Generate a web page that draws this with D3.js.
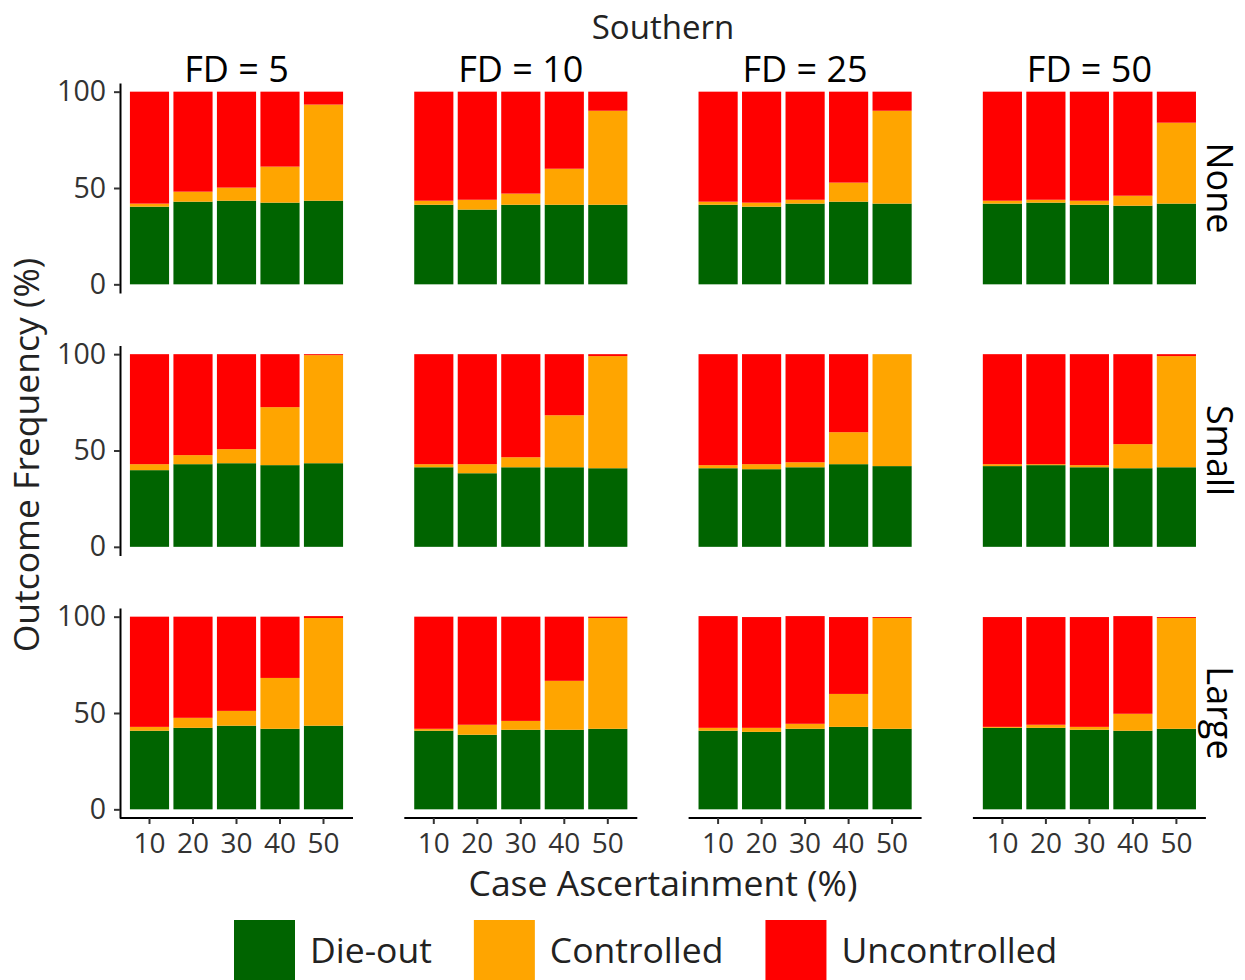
<!DOCTYPE html>
<html>
<head>
<meta charset="utf-8">
<script src="https://cdn.jsdelivr.net/npm/d3@7"></script>
<style>
  body { margin: 0; background: #fff; }
  text { font-family: "Open Sans", sans-serif; }
</style>
</head>
<body>
<script>
// case ascertainment categories (x) and the facet labels
const ascertainment = ["10", "20", "30", "40", "50"];
const fdLevels = ["FD = 5", "FD = 10", "FD = 25", "FD = 50"];
const delayLevels = ["None", "Small", "Large"];
const outcomes = ["Die-out", "Controlled", "Uncontrolled"];
const yTicks = [0, 50, 100];

// outcome frequency (%) per panel: [delay][fd][ascertainment]
const dieOut = [
  [[40.3, 42.9, 43.4, 42.4, 43.4], [41.3, 38.8, 41.3, 41.3, 41.3], [41.3, 40.3, 41.9, 42.9, 41.9], [41.9, 42.4, 41.3, 40.8, 41.9]],
  [[39.8, 42.9, 43.4, 42.4, 43.4], [41.3, 38.2, 41.3, 41.3, 40.8], [40.8, 40.3, 41.3, 42.9, 41.9], [41.9, 42.4, 41.3, 40.8, 41.3]],
  [[40.8, 42.3, 43.4, 41.8, 43.4], [40.8, 38.7, 41.3, 41.3, 41.8], [40.8, 40.2, 41.8, 42.8, 41.8], [42.3, 42.3, 41.3, 40.8, 41.8]]
];
const controlled = [
  [[1.6, 5.2, 6.8, 18.7, 49.9], [2.1, 5.1, 5.8, 18.7, 48.8], [1.6, 2.1, 2.0, 9.9, 48.2], [1.5, 1.5, 2.1, 5.2, 42.0]],
  [[3.1, 4.7, 7.3, 30.1, 56.1], [1.6, 4.7, 5.2, 27.0, 58.2], [1.6, 2.6, 2.6, 16.6, 58.1], [1.0, 0.5, 1.1, 12.5, 57.7]],
  [[2.0, 5.2, 7.7, 26.4, 55.9], [1.0, 5.2, 4.6, 25.4, 57.5], [1.5, 2.1, 2.6, 17.1, 57.5], [0.5, 1.6, 1.5, 8.8, 57.5]]
];
const uncontrolled = [
  [[58.1, 51.9, 49.8, 38.9, 6.7], [56.6, 56.1, 52.9, 40.0, 9.9], [57.1, 57.6, 56.1, 47.2, 9.9], [56.6, 56.1, 56.6, 54.0, 16.1]],
  [[57.1, 52.4, 49.3, 27.5, 0.5], [57.1, 57.1, 53.5, 31.7, 1.0], [57.6, 57.1, 56.1, 40.5, 0.0], [57.1, 57.1, 57.6, 46.7, 1.0]],
  [[57.2, 52.5, 48.9, 31.8, 1.0], [58.2, 56.1, 54.1, 33.3, 0.7], [58.0, 57.5, 55.9, 39.9, 0.5], [57.0, 55.9, 57.0, 50.7, 0.5]]
];

const colors = { "Die-out": "#006400", "Controlled": "#FFA500", "Uncontrolled": "#FF0000" };

const W = 1245, H = 980;
const panelW = 233, panelH = 210;
const left0 = 120, top0 = 83;
const colStep = 284.3, rowStep = 262.5;

const svg = d3.select("body").append("svg")
  .attr("width", W).attr("height", H);

// scales shared by every panel (positions are relative to the panel)
const x = d3.scaleBand()
  .domain(ascertainment)
  .range([7.75, panelW - 7.75])
  .paddingInner(0.1)
  .paddingOuter(0.05);
const y = d3.scaleLinear()
  .domain([-4.5, 104.5])
  .range([panelH, 0]);

const stack = d3.stack().keys(outcomes);

delayLevels.forEach((delay, r) => {
  fdLevels.forEach((fd, c) => {
    const g = svg.append("g")
      .attr("transform", `translate(${left0 + c * colStep},${top0 + r * rowStep})`);

    const rows = ascertainment.map((a, i) => ({
      ca: a,
      "Die-out": dieOut[r][c][i],
      "Controlled": controlled[r][c][i],
      "Uncontrolled": uncontrolled[r][c][i]
    }));
    const series = stack(rows);

    g.selectAll("g.layer")
      .data(series)
      .join("g")
      .attr("class", "layer")
      .attr("fill", d => colors[d.key])
      .selectAll("rect")
      .data(d => d)
      .join("rect")
      .attr("x", d => x(d.data.ca))
      .attr("width", x.bandwidth())
      .attr("y", d => y(d[1]))
      .attr("height", d => y(d[0]) - y(d[1]));

    // y axis only on the first column
    if (c === 0) {
      const yAxis = g.append("g")
        .call(d3.axisLeft(y).tickValues(yTicks).tickSizeInner(6).tickSizeOuter(0).tickPadding(8));
      yAxis.select(".domain").attr("stroke", "#000").attr("stroke-width", 2);
      yAxis.selectAll(".tick line").attr("stroke", "#333").attr("stroke-width", 2);
      yAxis.selectAll(".tick text")
        .attr("fill", "#333")
        .style("font-size", "28.5px")
        .style("font-family", "Open Sans");
    }

    // x axis only on the bottom row
    if (r === delayLevels.length - 1) {
      const xAxis = g.append("g")
        .attr("transform", `translate(0,${panelH})`)
        .call(d3.axisBottom(x).tickSizeInner(6).tickSizeOuter(0).tickPadding(9));
      xAxis.select(".domain")
        .attr("d", `M0,0H${panelW}`)
        .attr("stroke", "#000").attr("stroke-width", 2);
      xAxis.selectAll(".tick line").attr("stroke", "#333").attr("stroke-width", 2);
      xAxis.selectAll(".tick text")
        .attr("fill", "#333")
        .style("font-size", "28px")
        .style("font-family", "Open Sans");
    }

    // column strips on top
    if (r === 0) {
      g.append("text")
        .attr("x", panelW / 2)
        .attr("y", -1)
        .attr("text-anchor", "middle")
        .attr("fill", "#000")
        .style("font-size", "36px")
        .text(fd);
    }
    // row strips on the right
    if (c === fdLevels.length - 1) {
      g.append("text")
        .attr("transform", `translate(${panelW + 1},${panelH / 2}) rotate(90)`)
        .attr("text-anchor", "middle")
        .attr("fill", "#000")
        .style("font-size", "36px")
        .text(delay);
    }
  });
});

const plotL = left0, plotR = left0 + 3 * colStep + panelW;

// titles
svg.append("text")
  .attr("x", (plotL + plotR) / 2).attr("y", 39)
  .attr("text-anchor", "middle")
  .attr("fill", "#222")
  .style("font-size", "33px")
  .text("Southern");

svg.append("text")
  .attr("x", (plotL + plotR) / 2).attr("y", 896)
  .attr("text-anchor", "middle")
  .attr("fill", "#222")
  .style("font-size", "35.5px")
  .text("Case Ascertainment (%)");

svg.append("text")
  .attr("transform", `translate(39,455) rotate(-90)`)
  .attr("text-anchor", "middle")
  .attr("fill", "#222")
  .style("font-size", "35.5px")
  .text("Outcome Frequency (%)");

// legend
const legend = svg.append("g").attr("transform", "translate(234,920)");
let lx = 0;
outcomes.forEach(o => {
  legend.append("rect")
    .attr("x", lx).attr("y", 0)
    .attr("width", 61).attr("height", 61)
    .attr("fill", colors[o]);
  const t = legend.append("text")
    .attr("x", lx + 76).attr("y", 43)
    .attr("fill", "#222")
    .style("font-size", "35.5px")
    .text(o);
  lx += 76 + t.node().getComputedTextLength() + 42;
});
</script>
</body>
</html>
